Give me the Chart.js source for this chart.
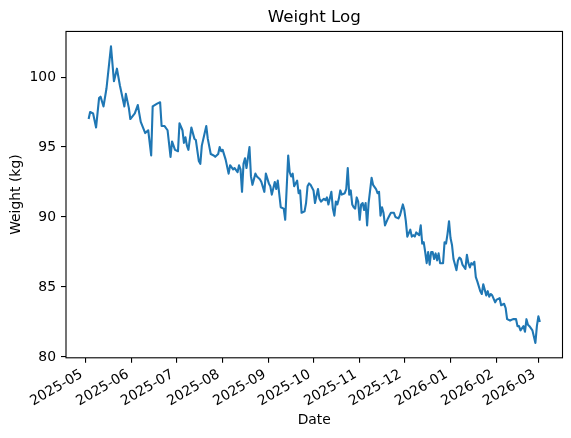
<!DOCTYPE html>
<html>
<head>
<meta charset="utf-8">
<title>Weight Log</title>
<script src="https://cdn.jsdelivr.net/npm/chart.js@4.4.1/dist/chart.umd.min.js"></script>
<style>
    html, body { margin: 0; padding: 0; background: #fff; }
    #wrap { width: 571px; height: 438px; position: relative; }
</style>
</head>
<body>
<div id="wrap"><canvas id="chart-weight"></canvas></div>
<script>
// ════════════════════════════════════════
// DATA  (day offsets counted from 2025-05-01)
// ════════════════════════════════════════

const dayOffsets = [
    2, 3, 5, 7, 9, 10, 12, 14, 17, 19, 21, 23, 26, 27, 29, 30, 33, 35, 37, 40,
    42, 44, 45, 48, 50, 51, 53, 55, 57, 58, 60, 62, 63, 65, 66, 67, 68, 69, 71, 73,
    74, 76, 77, 78, 81, 82, 84, 86, 87, 89, 90, 91, 92, 94, 96, 97, 99, 100, 102, 103,
    104, 105, 106, 107, 108, 110, 111, 112, 114, 115, 117, 118, 120, 121, 123, 124, 125, 127, 128, 129,
    131, 133, 134, 136, 137, 138, 139, 140, 142, 143, 144, 145, 147, 148, 149, 150, 151, 153, 154, 156,
    157, 158, 160, 161, 162, 163, 165, 166, 167, 168, 169, 170, 171, 172, 174, 175, 176, 177, 178, 179,
    180, 181, 182, 183, 184, 185, 186, 187, 188, 189, 190, 192, 193, 195, 196, 197, 198, 199, 200, 201,
    203, 204, 205, 207, 208, 210, 211, 213, 214, 215, 216, 218, 219, 220, 221, 222, 224, 225, 226, 227,
    228, 229, 230, 231, 232, 233, 234, 235, 236, 237, 238, 240, 241, 242, 243, 244, 245, 246, 247, 248,
    249, 250, 251, 252, 253, 255, 256, 257, 258, 259, 260, 261, 262, 263, 265, 266, 267, 269, 270, 271,
    272, 273, 275, 276, 278, 279, 281, 282, 283, 285, 287, 289, 290, 291, 292, 294, 295, 296, 297, 298,
    300, 302, 303, 304, 305
];

const weights = [
    97.0, 97.5, 97.4, 96.4, 98.5, 98.6, 97.9, 99.2, 102.2, 99.7, 100.6, 99.4, 97.9, 98.8, 97.8, 97.0, 97.4, 98.0, 96.8, 96.0,
    96.2, 94.4, 97.9, 98.1, 98.2, 96.5, 96.5, 96.2, 94.3, 95.4, 94.8, 94.7, 96.7, 96.2, 95.3, 95.7, 95.1, 94.8, 96.4, 95.6,
    95.5, 94.0, 93.8, 95.1, 96.5, 95.6, 94.5, 94.4, 94.3, 94.5, 95.0, 94.7, 94.8, 94.1, 93.1, 93.7, 93.4, 93.5, 93.2, 93.7,
    93.4, 91.8, 93.8, 94.2, 93.5, 95.0, 92.9, 92.3, 93.1, 92.9, 92.7, 92.5, 91.8, 93.1, 92.4, 92.2, 91.6, 92.5, 92.0, 92.6,
    90.7, 90.6, 89.8, 94.4, 93.2, 92.9, 93.1, 92.2, 92.6, 91.7, 91.9, 90.3, 90.4, 91.0, 92.2, 92.4, 92.3, 91.9, 91.0, 92.0,
    91.3, 91.1, 91.3, 91.2, 91.4, 90.9, 91.8, 90.6, 90.1, 91.1, 90.9, 91.3, 91.9, 91.6, 91.7, 92.0, 93.5, 91.6, 91.9, 90.9,
    90.7, 90.6, 91.4, 91.1, 89.8, 90.9, 91.0, 90.5, 91.0, 89.4, 91.0, 92.8, 92.3, 92.0, 91.7, 91.8, 90.1, 90.7, 90.3, 89.4,
    89.9, 90.1, 90.3, 90.3, 90.0, 89.9, 90.1, 90.9, 90.5, 89.7, 88.6, 89.1, 88.6, 88.7, 88.6, 88.9, 88.7, 89.4, 88.1, 88.2,
    87.5, 86.7, 87.5, 86.6, 87.5, 87.5, 87.0, 87.4, 86.9, 87.4, 86.7, 86.7, 88.2, 88.1, 88.8, 89.7, 88.5, 88.0, 87.0, 86.6,
    86.2, 86.9, 87.1, 87.0, 86.6, 86.3, 87.3, 86.7, 86.4, 86.7, 86.6, 86.8, 85.7, 85.4, 84.7, 84.5, 85.2, 84.4, 84.7, 84.3,
    84.5, 84.4, 83.9, 84.1, 84.2, 83.7, 83.8, 83.5, 82.7, 82.6, 82.7, 82.7, 82.2, 82.2, 81.9, 82.2, 81.8, 82.7, 82.3, 82.2,
    81.9, 81.0, 82.2, 82.9, 82.5
];

const monthTickDays = [0, 31, 61, 92, 123, 153, 184, 214, 245, 276, 304];
const monthTickLabels = [
    '2025-05', '2025-06', '2025-07', '2025-08', '2025-09', '2025-10',
    '2025-11', '2025-12', '2026-01', '2026-02', '2026-03'
];
const weightTicks = [80, 85, 90, 95, 100];

// ════════════════════════════════════════
// STYLE
// ════════════════════════════════════════

const FONT = "'DejaVu Sans', sans-serif";
Chart.defaults.font.family = FONT;
Chart.defaults.font.size = 13.9;
Chart.defaults.color = '#000';

// matplotlib-style box around the axes
const axesFrame = {
    id: 'axesFrame',
    afterDraw(chart) {
        const { ctx, chartArea: a } = chart;
        ctx.save();
        ctx.strokeStyle = '#000';
        ctx.lineWidth = 1.1;
        ctx.strokeRect(a.left, a.top, a.right - a.left, a.bottom - a.top);
        ctx.restore();
    }
};

const tickMarks = { drawOnChartArea: false, drawTicks: true, tickLength: 5, color: '#000', lineWidth: 1.1 };

// ════════════════════════════════════════
// LINE CHART
// ════════════════════════════════════════

new Chart(document.getElementById('chart-weight'), {
    type: 'line',
    data: {
        datasets: [{
            label: 'Weight',
            data: dayOffsets.map((d, i) => ({ x: d, y: weights[i] })),
            borderColor: '#1f77b4',
            borderWidth: 2.1,
            borderJoinStyle: 'round',
            pointRadius: 0,
            tension: 0,
            fill: false,
        }]
    },
    options: {
        responsive: true,
        maintainAspectRatio: false,
        animation: false,
        events: [],
        layout: { padding: { left: 0, right: 8.5, top: 0, bottom: 0 } },
        plugins: {
            legend: { display: false },
            tooltip: { enabled: false },
            title: {
                display: true,
                text: 'Weight Log',
                fullSize: false,
                font: { family: FONT, size: 16.7, weight: 'normal', lineHeight: 1.2 },
                color: '#000',
                padding: { top: 7.5, bottom: 3.9 },
            }
        },
        scales: {
            x: {
                type: 'linear',
                min: -13.2,
                max: 320.2,
                afterBuildTicks: s => { s.ticks = monthTickDays.map(v => ({ value: v })); },
                afterFit: s => { s.height = 80.2; },
                ticks: {
                    autoSkip: false,
                    minRotation: 30,
                    maxRotation: 30,
                    padding: 3.5,
                    labelOffset: -4,
                    callback: v => monthTickLabels[monthTickDays.indexOf(v)] ?? '',
                },
                grid: tickMarks,
                border: { display: false },
                title: {
                    display: true,
                    text: 'Date',
                    font: { family: FONT, size: 13.9 },
                    padding: { top: 0, bottom: 9.7 },
                },
            },
            y: {
                min: 79.94,
                max: 103.26,
                afterBuildTicks: s => { s.ticks = weightTicks.map(v => ({ value: v })); },
                afterFit: s => { s.width = 66; },
                ticks: { padding: 5, callback: v => String(v) },
                grid: tickMarks,
                border: { display: false },
                title: {
                    display: true,
                    text: 'Weight (kg)',
                    font: { family: FONT, size: 13.9 },
                    padding: { top: 8, bottom: 0 },
                },
            }
        }
    },
    plugins: [axesFrame]
});
</script>
</body>
</html>
